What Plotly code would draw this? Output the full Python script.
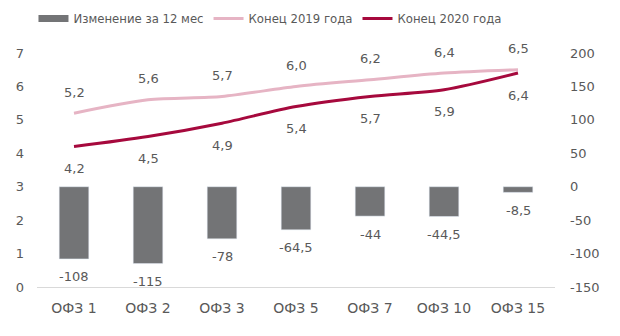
import plotly.graph_objects as go

# Bond tenors and yields
categories = ["ОФЗ 1", "ОФЗ 2", "ОФЗ 3", "ОФЗ 5", "ОФЗ 7", "ОФЗ 10", "ОФЗ 15"]
yield_2019 = [5.2, 5.6, 5.7, 6.0, 6.2, 6.4, 6.5]
yield_2020 = [4.2, 4.5, 4.9, 5.4, 5.7, 5.9, 6.4]
change_12m = [-108, -115, -78, -64.5, -44, -44.5, -8.5]

left_ticks = [0, 1, 2, 3, 4, 5, 6, 7]
right_ticks = [-150, -100, -50, 0, 50, 100, 150, 200]

BAR_COLOR = "#737476"
PINK = "#E6B4C4"
CRIMSON = "#A6093D"
TEXT = "#595959"
FONT = "DejaVu Sans"


def ru(v, fmt="g"):
    return format(v, fmt).replace(".", ",")


fig = go.Figure()

# Change over 12 months (bars, right axis)
fig.add_trace(go.Bar(
    x=categories, y=change_12m, yaxis="y2", marker_color=BAR_COLOR,
    width=0.4, showlegend=False, name="Изменение за 12 мес",
))
# Legend entry for the bars drawn as a wide swatch
fig.add_trace(go.Scatter(
    x=[None], y=[None], mode="lines", line=dict(color=BAR_COLOR, width=7),
    name="Изменение за 12 мес", yaxis="y2",
))
fig.add_trace(go.Scatter(
    x=categories, y=yield_2019, mode="lines", name="Конец 2019 года",
    line=dict(color=PINK, width=3, shape="spline", smoothing=0.8),
))
fig.add_trace(go.Scatter(
    x=categories, y=yield_2020, mode="lines", name="Конец 2020 года",
    line=dict(color=CRIMSON, width=3, shape="spline", smoothing=0.8),
))

annotations = []
for c, v in zip(categories, yield_2019):
    annotations.append(dict(x=c, y=v, xref="x", yref="y", text=ru(v, ".1f"),
                            showarrow=False, yshift=21))
for c, v in zip(categories, yield_2020):
    annotations.append(dict(x=c, y=v, xref="x", yref="y", text=ru(v, ".1f"),
                            showarrow=False, yshift=-22))
for c, v in zip(categories, change_12m):
    annotations.append(dict(x=c, y=v, xref="x", yref="y2", text=ru(v),
                            showarrow=False, yshift=-18))
for a in annotations:
    a["font"] = dict(family=FONT, size=13, color=TEXT)

fig.update_layout(
    width=620, height=336,
    margin=dict(l=37, r=65, t=53, b=49, autoexpand=False),
    paper_bgcolor="white", plot_bgcolor="white",
    font=dict(family=FONT, size=13, color=TEXT),
    bargap=0.6,
    xaxis=dict(
        showgrid=False, showline=True, linecolor="#D9D9D9", linewidth=1,
        ticks="", ticklabelstandoff=8, tickfont=dict(size=14, color=TEXT),
    ),
    yaxis=dict(
        range=[0, 7], tickvals=left_ticks, showgrid=False, zeroline=False,
        showline=False, ticks="", ticklabelstandoff=12,
        tickfont=dict(size=13, color=TEXT),
    ),
    yaxis2=dict(
        range=[-150, 200], tickvals=right_ticks,
        ticktext=[str(t) for t in right_ticks],
        overlaying="y", side="right",
        showgrid=False, zeroline=False, showline=False, ticks="",
        ticklabelstandoff=14, tickfont=dict(size=13, color=TEXT),
    ),
    legend=dict(
        orientation="h", xref="container", yref="container",
        x=0.054, y=0.945, xanchor="left", yanchor="middle",
        font=dict(size=11.7, color=TEXT), itemwidth=30, tracegroupgap=0,
        traceorder="normal", bgcolor="rgba(0,0,0,0)",
    ),
    annotations=annotations,
)

fig.write_html("out.html")
